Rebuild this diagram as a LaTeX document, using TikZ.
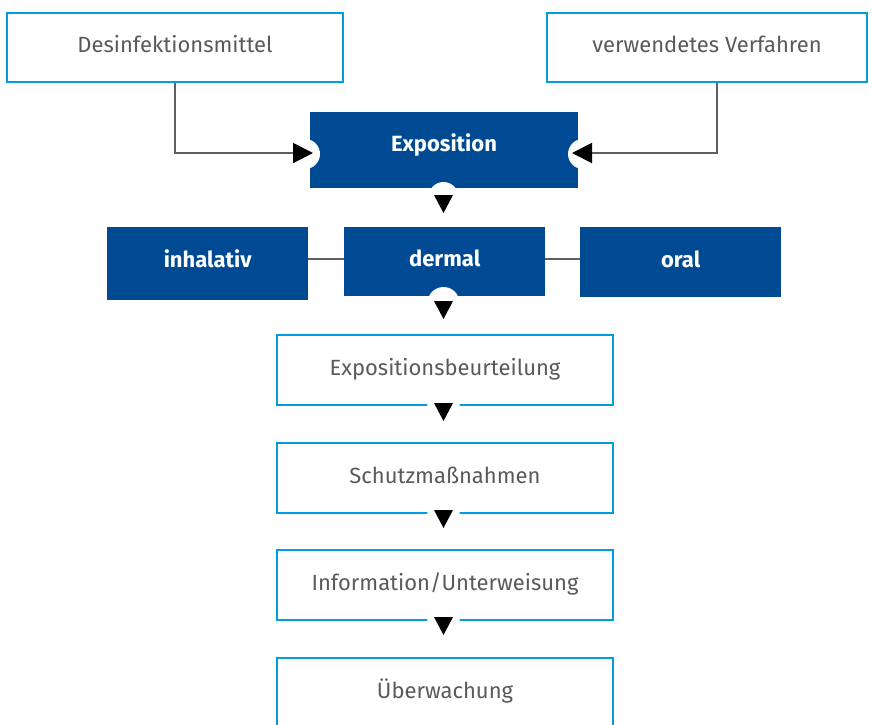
\documentclass[tikz,border=0pt]{standalone}
\usepackage{fontspec}
\setmainfont{Fira Sans}
\usetikzlibrary{arrows.meta,calc}
\definecolor{lblue}{RGB}{0,158,224}
\definecolor{dblue}{RGB}{0,74,147}
\definecolor{tgray}{RGB}{90,90,90}
\definecolor{cgray}{RGB}{95,95,95}
\newcommand\downtri[1]{\fill[black] ($(#1)+(-9.5,0)$) -- ++(19,0) -- ++(-9.5,18) -- cycle;}
\begin{document}
\begin{tikzpicture}[x=1pt,y=-1pt,
 obox/.style={draw=lblue,line width=2pt,fill=white,text=tgray,inner sep=0pt,anchor=north west,font=\fontsize{22}{26}\selectfont,text height=16pt,text depth=6pt},
 fbox/.style={fill=dblue,text=white,inner sep=0pt,anchor=north west,font=\fontsize{22}{26}\selectfont\bfseries,text height=16pt,text depth=6pt},
 conn/.style={draw=cgray,line width=2pt},
 tip/.style={-{Triangle[length=20pt,width=20pt,color=black]}},
 notch/.style={circle,fill=white,inner sep=0pt,minimum size=#1},
 notch/.default=30pt
]
\useasboundingbox (0,0) rectangle (872,724);

% top boxes
\node[obox,minimum width=336pt,minimum height=69pt] (desinf) at (6,12) {Desinfektionsmittel};
\node[obox,minimum width=320pt,minimum height=69pt] (verf) at (546,12) {verwendetes Verfahren};

% exposition
\node[fbox,minimum width=268pt,minimum height=76pt] (expo) at (310,112) {};
\node[text=white,font=\fontsize{22}{26}\selectfont\bfseries] (expot) at (444,145) {Exposition};

% row
\node[fbox,minimum width=201pt,minimum height=73pt,text depth=9pt,text height=16pt] (inhal) at (107,227) {inhalativ};
\node[fbox,minimum width=201pt,minimum height=69pt] (dermal) at (344,227) {dermal};
\node[fbox,minimum width=201pt,minimum height=70pt] (oral) at (580,227) {oral};

% lower boxes
\node[obox,minimum width=336pt,minimum height=70pt] (beurt) at (276,334) {Expositionsbeurteilung};
\node[obox,minimum width=336pt,minimum height=70pt] (schutz) at (276,442) {Schutzmaßnahmen};
\node[obox,minimum width=336pt,minimum height=70pt] (info) at (276,549) {Information/Unterweisung};
\node[obox,minimum width=336pt,minimum height=70pt] (ueber) at (276,657) {Überwachung};

% notches
\node[notch] (nl) at (305,154) {};
\node[notch] (nr) at (583,154) {};
\node[notch] (nb1) at (443.5,197) {};
\node[notch=32pt] (nb2) at (443.5,303) {};
\node[notch=34pt] (nb3) at (443.5,410) {};
\node[notch=34pt] (nb4) at (443.5,518) {};
\node[notch=34pt] (nb5) at (443.5,625) {};

% side connectors
\coordinate (tl) at (313,153);
\coordinate (tr) at (572,153);
\draw[conn,tip] (desinf.south) |- (tl);
\draw[conn,tip] ($(verf.south)+(10,0)$) |- (tr);

% row lines
\coordinate (rowy) at (0,259);
\draw[conn] (inhal.east |- rowy) -- (dermal.west |- rowy);
\draw[conn] (dermal.east |- rowy) -- (oral.west |- rowy);

% down triangles
\coordinate (d1) at (443.5,195);
\coordinate (d2) at (443.5,301);
\coordinate (d3) at (443.5,403);
\coordinate (d4) at (443.5,510);
\coordinate (d5) at (443.5,617);
\downtri{d1}
\downtri{d2}
\downtri{d3}
\downtri{d4}
\downtri{d5}
\end{tikzpicture}
\end{document}
